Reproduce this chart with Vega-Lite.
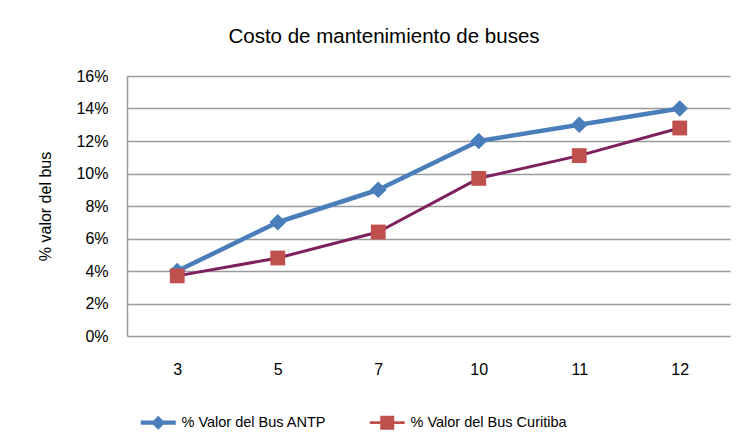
{
  "$schema": "https://vega.github.io/schema/vega-lite/v6.json",
  "autosize": {"type": "none"},
  "padding": {"left": 127, "top": 76, "right": 13, "bottom": 111},
  "width": 603,
  "height": 260,
  "background": "white",
  "title": {
    "text": "Costo de mantenimiento de buses",
    "frame": "bounds",
    "anchor": "middle",
    "font": "Liberation Sans, Arial, sans-serif",
    "fontSize": 20.5,
    "fontWeight": "normal",
    "color": "#000000",
    "baseline": "alphabetic",
    "offset": 5
  },
  "data": {
    "values": [
      {"x": "3", "serie": "% Valor del Bus ANTP", "v": 0.04},
      {"x": "5", "serie": "% Valor del Bus ANTP", "v": 0.07},
      {"x": "7", "serie": "% Valor del Bus ANTP", "v": 0.09},
      {"x": "10", "serie": "% Valor del Bus ANTP", "v": 0.12},
      {"x": "11", "serie": "% Valor del Bus ANTP", "v": 0.13},
      {"x": "12", "serie": "% Valor del Bus ANTP", "v": 0.14},
      {"x": "3", "serie": "% Valor del Bus Curitiba", "v": 0.037},
      {"x": "5", "serie": "% Valor del Bus Curitiba", "v": 0.048},
      {"x": "7", "serie": "% Valor del Bus Curitiba", "v": 0.064},
      {"x": "10", "serie": "% Valor del Bus Curitiba", "v": 0.097},
      {"x": "11", "serie": "% Valor del Bus Curitiba", "v": 0.111},
      {"x": "12", "serie": "% Valor del Bus Curitiba", "v": 0.128}
    ]
  },
  "encoding": {
    "x": {
      "field": "x",
      "type": "ordinal",
      "sort": ["3", "5", "7", "10", "11", "12"],
      "scale": {"type": "point", "padding": 0.5},
      "axis": {
        "title": null,
        "labelAngle": 0,
        "ticks": false,
        "domain": false,
        "grid": false,
        "labelPadding": 25,
        "labelFontSize": 16,
        "labelColor": "#000000"
      }
    },
    "y": {
      "field": "v",
      "type": "quantitative",
      "scale": {"domain": [0, 0.16], "nice": false},
      "axis": {
        "title": "% valor del bus",
        "values": [0, 0.02, 0.04, 0.06, 0.08, 0.1, 0.12, 0.14, 0.16],
        "format": ".0%",
        "ticks": false,
        "domain": true,
        "domainColor": "#9a9a9a",
        "domainWidth": 1.5,
        "grid": true,
        "gridColor": "#9a9a9a",
        "gridWidth": 1.3,
        "labelPadding": 19,
        "labelFontSize": 16,
        "labelColor": "#000000",
        "titleFontSize": 16,
        "titleFontWeight": "normal",
        "titleColor": "#000000",
        "titlePadding": 22
      }
    }
  },
  "layer": [
    {
      "transform": [{"filter": "datum.serie === '% Valor del Bus ANTP'"}],
      "mark": {"type": "line", "strokeJoin": "round", "color": "#4A7EBB", "strokeWidth": 4.5}
    },
    {
      "transform": [{"filter": "datum.serie === '% Valor del Bus ANTP'"}],
      "mark": {"type": "point", "filled": true, "opacity": 1, "size": 280, "shape": "diamond", "color": "#4A7EBB"}
    },
    {
      "transform": [{"filter": "datum.serie === '% Valor del Bus Curitiba'"}],
      "mark": {"type": "line", "strokeJoin": "round", "color": "#7E1F5E", "strokeWidth": 3}
    },
    {
      "transform": [{"filter": "datum.serie === '% Valor del Bus Curitiba'"}],
      "mark": {"type": "point", "filled": true, "opacity": 1, "size": 220, "shape": "square", "color": "#C0504D"}
    },
    {
      "transform": [{"filter": "false"}],
      "mark": {"type": "point", "filled": true, "opacity": 1, "size": 196},
      "encoding": {
        "color": {
          "field": "serie",
          "type": "nominal",
          "scale": {"domain": ["% Valor del Bus ANTP", "% Valor del Bus Curitiba"], "range": ["#4A7EBB", "#C0504D"]},
          "legend": {
            "title": null,
            "orient": "none",
            "legendX": 24,
            "legendY": 339,
            "padding": 0,
            "direction": "horizontal",
            "symbolSize": 196,
            "labelOffset": 16,
            "columnPadding": 42,
            "labelFontSize": 14.5,
            "labelColor": "#000000",
            "labelLimit": 300,
            "symbolStrokeWidth": 0,
            "symbolOpacity": 1
          }
        },
        "shape": {
          "field": "serie",
          "type": "nominal",
          "scale": {
            "domain": ["% Valor del Bus ANTP", "% Valor del Bus Curitiba"],
            "range": ["M-2.5,-0.3H2.5V0.3H-2.5Z M0,-1L1,0L0,1L-1,0Z", "M-2.5,-0.2H2.5V0.2H-2.5Z M-1,-1H1V1H-1Z"]
          }
        }
      }
    }
  ],
  "config": {
    "font": "Liberation Sans, Arial, sans-serif",
    "view": {"stroke": null}
  }
}
